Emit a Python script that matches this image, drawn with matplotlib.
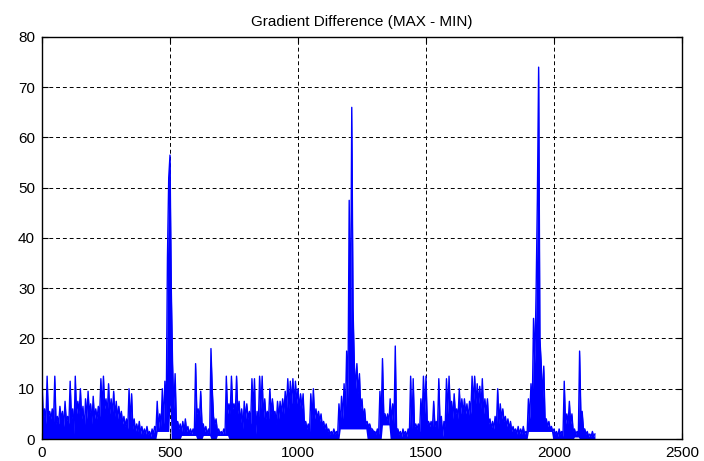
import numpy as np
import matplotlib
matplotlib.use('Agg')
import matplotlib.pyplot as plt

# peak value of every 10-sample bin (x = 0, 10, ..., 2160)
hi = [
	12, 6, 12.5, 5.5, 6, 12.5, 4.5, 6.5, 5.5, 7.5,
	4.5, 11.5, 6, 12.5, 7.5, 10, 6.5, 8, 9.5, 7,
	8.5, 6, 6.5, 12, 12.5, 8, 11, 8, 9.5, 7.5,
	6.5, 5.5, 4.5, 4, 10, 9, 4, 3, 3.5, 2.5,
	2, 2.5, 1.5, 2, 2.5, 7.5, 5, 10, 11.5, 36,
	56.5, 15, 13, 3.5, 3, 3.5, 4, 2.5, 2, 2,
	15, 6, 9.5, 3, 2.5, 2, 18, 4.5, 4, 2,
	1.5, 2, 12.5, 7, 12.5, 7, 12.5, 7.5, 6, 7.5,
	7, 5.5, 12, 12, 5.5, 12.5, 12.5, 8, 5.5, 10,
	8, 5.5, 7.5, 7.5, 8, 9.5, 12, 11.5, 12, 11.5,
	10, 9, 9, 3.5, 3, 9, 10, 6, 5.5, 5,
	3.5, 3, 2, 1.5, 2, 1.5, 7, 8.5, 11, 17.5,
	47.5, 66, 15, 15, 13, 8, 6, 3.5, 3, 2,
	1.5, 2, 9.5, 16, 5, 5, 8, 7, 18.5, 2,
	1.5, 2, 1.5, 2, 12.5, 12, 3, 3, 8, 12.5,
	12.5, 3.5, 3.5, 7.5, 3.5, 12, 4.5, 3.5, 12, 12.5,
	7.5, 9, 6, 10, 8, 8, 7, 7.5, 12.5, 12.5,
	11, 10.5, 12, 8, 8, 4, 3.5, 4.5, 10, 7,
	6, 4.5, 4, 3.5, 2.5, 2, 2.5, 2, 2.5, 1.5,
	8, 11, 24, 29, 74, 15, 14.5, 4, 3.5, 2.5,
	2, 1.5, 2, 1.5, 11.5, 5, 7.5, 5, 2, 1.5,
	17.5, 5.5, 2, 1.5, 1, 1.5, 1]

# value between two bins (x = 5, 15, ..., 2155)
lo = [
	4, 3, 4.5, 4, 3.5, 3, 3, 4, 2.5, 3.5,
	3, 4, 1, 5, 5, 4, 1.5, 4, 5, 3,
	4, 4, 4.5, 6, 6, 5, 5, 5, 4.5, 4,
	4, 3, 2.5, 2, 3, 2, 1.5, 1.5, 1, 1,
	1, 1, 0.5, 1, 1.5, 2, 2.5, 3, 4, 52,
	30, 6, 3, 2, 1.5, 1.5, 1.5, 1, 1, 1,
	5, 4, 3, 1.5, 1, 1, 10, 3, 1.5, 1,
	1, 1, 5, 5, 6, 5, 5, 3, 2, 4,
	4, 3, 6, 1, 3, 6, 4, 4, 4, 5,
	5, 3, 4, 5, 5, 6, 6, 7, 7, 7,
	6, 6, 3, 2, 1.5, 4, 4, 4, 3.5, 2.5,
	2, 1.5, 1, 1, 1, 1, 3, 4, 5, 8,
	20, 26, 10, 9, 6, 4, 3, 2.5, 2, 1.5,
	1, 1, 4, 5, 3.5, 3, 3.5, 3, 2, 1,
	0.5, 1, 0.5, 1, 2, 2.5, 2, 1.5, 4, 5,
	3, 2.5, 2, 2.5, 2, 3, 0.5, 2.5, 5, 6,
	4, 5, 4, 5, 5, 5, 4, 5, 7, 7,
	7, 6, 5, 5, 3, 2, 2, 2.5, 3, 4,
	3.5, 2.5, 2, 1.5, 1.5, 1, 1, 1, 1, 1,
	4, 6, 15, 47.5, 20, 8, 4, 2.5, 2, 1.5,
	1, 0.5, 1, 0.5, 3, 3, 3, 1.5, 1, 0.5,
	5, 2, 1, 0.5, 0.5, 0.5]

# stretches where the signal never drops to zero
gap_start = [450, 496, 545, 630, 685, 1165, 1328, 1898, 2080]
gap_end = [495, 504, 600, 655, 725, 1265, 1355, 1990, 2098]
gap_floor = [1.5, 7, 0.7, 0.7, 0.7, 2.0, 2.8, 1.5, 0.4]

xticks = [0, 500, 1000, 1500, 2000, 2500]
yticks = [0, 10, 20, 30, 40, 50, 60, 70, 80]

series = []
for i in range(len(hi)):
	series.append(hi[i])
	if i < len(lo):
		series.append(lo[i])
series = np.array(series, dtype=float)
xs = np.arange(len(series)) * 5.0

floor = np.zeros_like(series)
for s, e, f in zip(gap_start, gap_end, gap_floor):
	floor[(xs >= s) & (xs <= e)] = f

plt.rcParams['font.family'] = ['Liberation Sans', 'DejaVu Sans']

fig = plt.figure(figsize=(7.04, 4.61), dpi=100)
ax = fig.add_axes([42 / 704, 22 / 461, 640 / 704, 402 / 461])

ax.fill_between(xs, floor, series, color='#0000ff', lw=0, zorder=3)
ax.plot(xs, series, color='#0000ff', lw=1.0, zorder=3)

ax.set_xlim(0, 2500)
ax.set_ylim(0, 80)
ax.set_xticks(xticks)
ax.set_yticks(yticks)
ax.tick_params(direction='in', length=4, width=0.8, top=True, right=True,
	labelsize=11, pad=5, colors='black')
ax.grid(True, color='black', linestyle=(0, (4, 3)), linewidth=0.7)
ax.set_axisbelow(True)
for sp in ax.spines.values():
	sp.set_linewidth(1.0)
	sp.set_color('black')
	sp.set_zorder(5)

ax.set_title('Gradient Difference (MAX - MIN)', fontsize=11, pad=8)

fig.savefig('out.png', dpi=100)
